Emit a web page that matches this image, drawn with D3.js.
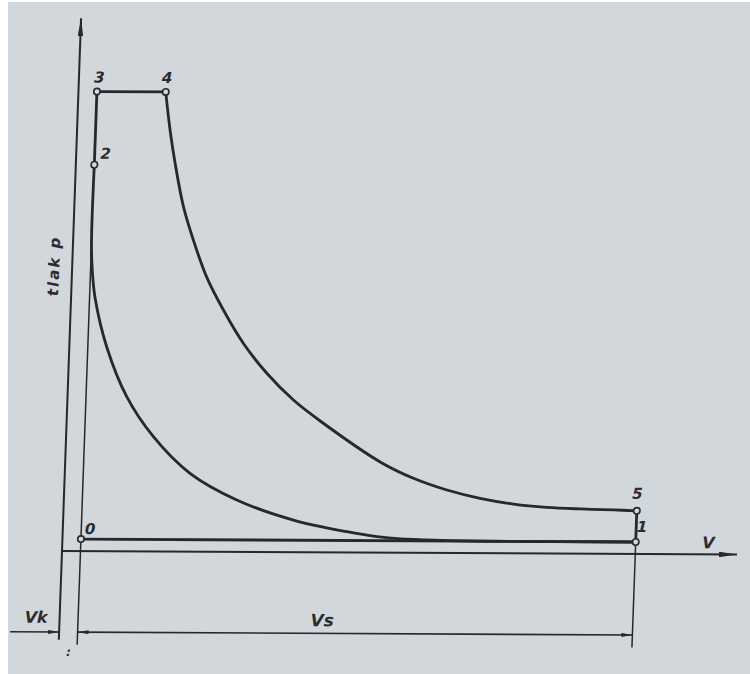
<!DOCTYPE html>
<html lang="cs">
<head>
  <meta charset="UTF-8">
  <title>p-V diagram</title>
  <script src="https://d3js.org/d3.v7.min.js"></script>
  <style>
    body { margin: 0; background: #ffffff; }
    svg { display: block; }
    .lbl { font-family: "DejaVu Sans", sans-serif; font-style: italic; font-weight: bold; fill: #2a2c30; }
  </style>
</head>
<body>
  <svg id="chart" width="750" height="674"></svg>
  <script>
    // cycle state points (V in units of Vk, p in units of p1)
    const stateNames = ["0", "1", "2", "3", "4", "5"];
    const stateV = [1, 31, 1, 1, 4.72, 31];
    const stateP = [1, 1, 32.2, 38.3, 38.3, 3.6];

    // expansion 4 -> 5
    const expV = [4.72, 5.03, 5.36, 5.90, 6.50, 7.30, 8.26, 9.40, 10.73, 12.22, 13.88, 17.03, 18.86, 20.69, 22.5, 24.32, 26.13, 27.93, 29.74, 31];
    const expP = [38.3, 35.1, 32.4, 28.75, 25.97, 22.86, 20.15, 17.39, 14.90, 12.68, 10.76, 7.56, 6.21, 5.25, 4.57, 4.11, 3.85, 3.73, 3.66, 3.6];

    // compression 1 -> 2
    const compV = [31, 27, 23, 20.5, 18.3, 17.0, 15.36, 12.45, 9.35, 6.77, 4.72, 3.20, 2.02, 1.3, 1.1, 1, 1];
    const compP = [1, 1, 1, 1.05, 1.15, 1.33, 1.73, 2.68, 4.33, 6.53, 9.57, 12.89, 17.04, 21.1, 23.3, 25.6, 32.2];

    // straight parts of the cycle
    const segments = [["0", "1"], ["1", "5"], ["2", "3"], ["3", "4"]];

    // axis extents and dimension line
    const vMax = 36.5, pMax = 44.4, pMin = -7.4;
    const vDimStart = -2.65, pDim = -6.75, pExtEnd = -7.8, pVkTop = 25.6;
    const vsLabelV = 14.2;

    const W = 750, H = 674;
    const svg = d3.select("#chart");
    const ink = "#26282c";
    const paper = "#d2d7db";

    svg.append("rect").attr("width", W).attr("height", H).attr("fill", "#ffffff");
    svg.append("rect").attr("x", 8).attr("y", 2).attr("width", W - 8).attr("height", H - 2).attr("fill", paper);

    const x = d3.scaleLinear().domain([0, vMax]).range([62, 737]);
    const y = d3.scaleLinear().domain([pMin, pMax]).range([551 - pMin * 12, 551 - pMax * 12]);

    const defs = svg.append("defs");
    function marker(id, len, wid) {
      defs.append("marker")
        .attr("id", id)
        .attr("viewBox", `0 0 ${len} ${wid}`)
        .attr("refX", len).attr("refY", wid / 2)
        .attr("markerWidth", len).attr("markerHeight", wid)
        .attr("markerUnits", "userSpaceOnUse")
        .attr("orient", "auto-start-reverse")
        .append("path")
        .attr("d", `M0,0 L${len},${wid / 2} L0,${wid} Z`)
        .attr("fill", ink);
    }
    marker("axisArrow", 18, 5.5);
    marker("dimArrow", 11, 4);

    // the photographed page is slightly skewed
    const g = svg.append("g")
      .attr("transform", `translate(${x(0)},${y(0)}) rotate(0.3) skewX(-1.75) translate(${-x(0)},${-y(0)})`);

    const straight = d3.line().x(d => x(d[0])).y(d => y(d[1]));
    const smooth = d3.line().x(d => x(d[0])).y(d => y(d[1])).curve(d3.curveCatmullRom.alpha(0.5));

    // axes
    g.append("path").attr("d", straight([[0, pMin], [0, pMax]]))
      .attr("stroke", ink).attr("stroke-width", 2).attr("fill", "none").attr("marker-end", "url(#axisArrow)");
    g.append("path").attr("d", straight([[0, 0], [vMax, 0]]))
      .attr("stroke", ink).attr("stroke-width", 2).attr("fill", "none").attr("marker-end", "url(#axisArrow)");

    const st = name => { const i = stateNames.indexOf(name); return [stateV[i], stateP[i]]; };

    // thin construction lines
    g.append("path").attr("d", straight([[stateV[0], pExtEnd], [stateV[0], pVkTop]]))
      .attr("stroke", ink).attr("stroke-width", 1.5).attr("fill", "none");
    g.append("path").attr("d", straight([[stateV[1], pExtEnd], [stateV[1], stateP[1]]]))
      .attr("stroke", ink).attr("stroke-width", 1.5).attr("fill", "none");

    // dimension line Vk / Vs
    g.append("path").attr("d", straight([[vDimStart, pDim], [0, pDim]]))
      .attr("stroke", ink).attr("stroke-width", 1.6).attr("fill", "none").attr("marker-end", "url(#dimArrow)");
    g.append("path").attr("d", straight([[stateV[0], pDim], [stateV[1], pDim]]))
      .attr("stroke", ink).attr("stroke-width", 1.6).attr("fill", "none")
      .attr("marker-start", "url(#dimArrow)").attr("marker-end", "url(#dimArrow)");

    // cycle
    g.append("path").attr("d", smooth(d3.zip(compV, compP)))
      .attr("stroke", ink).attr("stroke-width", 2.8).attr("fill", "none").attr("stroke-linejoin", "round");
    g.append("path").attr("d", smooth(d3.zip(expV, expP)))
      .attr("stroke", ink).attr("stroke-width", 2.8).attr("fill", "none").attr("stroke-linejoin", "round");
    g.selectAll(".seg").data(segments).enter().append("path")
      .attr("class", "seg")
      .attr("d", d => straight([st(d[0]), st(d[1])]))
      .attr("stroke", ink).attr("stroke-width", 2.8).attr("fill", "none");

    // state points
    g.selectAll(".pt").data(stateNames).enter().append("circle")
      .attr("class", "pt")
      .attr("cx", d => x(st(d)[0])).attr("cy", d => y(st(d)[1]))
      .attr("r", 3.2).attr("fill", paper).attr("stroke", ink).attr("stroke-width", 1.6);

    // point labels
    const off = { "0": [9, -5], "1": [6, -10], "2": [11, -6], "3": [2, -9], "4": [1, -9], "5": [0, -12] };
    g.selectAll(".plbl").data(stateNames).enter().append("text")
      .attr("class", "lbl")
      .attr("x", d => x(st(d)[0]) + off[d][0]).attr("y", d => y(st(d)[1]) + off[d][1])
      .attr("text-anchor", "middle").attr("font-size", 15)
      .text(d => d);

    // axis titles
    g.append("text").attr("class", "lbl")
      .attr("transform", `translate(${x(0) - 13},${y(23.75)}) rotate(-90)`)
      .attr("text-anchor", "middle").attr("font-size", 15).attr("letter-spacing", 2)
      .text("tlak p");
    g.append("text").attr("class", "lbl")
      .attr("x", x(vMax) - 29).attr("y", y(0) - 6)
      .attr("text-anchor", "middle").attr("font-size", 16)
      .text("V");
    g.append("text").attr("class", "lbl")
      .attr("x", x(-1.27)).attr("y", y(pDim) - 9)
      .attr("text-anchor", "middle").attr("font-size", 16)
      .text("Vk");
    g.append("text").attr("class", "lbl")
      .attr("x", x(vsLabelV)).attr("y", y(pDim) - 7)
      .attr("text-anchor", "middle").attr("font-size", 17)
      .text("Vs");
    g.append("text").attr("class", "lbl")
      .attr("x", x(0.55)).attr("y", y(pDim) + 24)
      .attr("text-anchor", "middle").attr("font-size", 12)
      .text(":");
  </script>
</body>
</html>
